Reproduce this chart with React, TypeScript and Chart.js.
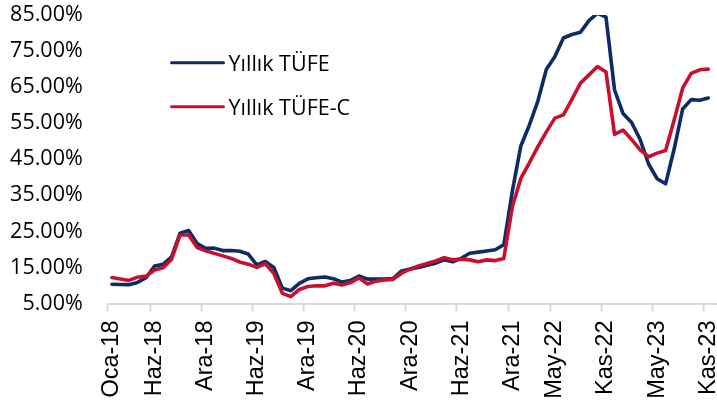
import React, { useEffect, useRef } from 'react';
import { Chart, registerables } from 'chart.js';

Chart.register(...registerables);

// Turkish month abbreviations and years for the category axis (Oca-18 … Ara-23)
const MONTHS = ['Oca', 'Şub', 'Mar', 'Nis', 'May', 'Haz', 'Tem', 'Ağu', 'Eyl', 'Eki', 'Kas', 'Ara'];
const YEARS = ['18', '19', '20', '21', '22', '23'];
const CATEGORIES = YEARS.flatMap((y) => MONTHS.map((m) => `${m}-${y}`));

// Indices of categories that carry a tick label / tick mark
const LABELED_INDICES = [0, 5, 11, 17, 23, 29, 35, 41, 47, 52, 58, 64, 70];

// Y-axis ticks (percent)
const Y_MIN = 5;
const Y_MAX = 85;
const Y_STEP = 10;

// Yıllık TÜFE (annual CPI, %), Oca-18 … Kas-23
const TUFE = [
  10.35, 10.26, 10.23, 10.85, 12.15, 15.39, 15.85, 17.9, 24.52, 25.24, 21.62, 20.3,
  20.35, 19.67, 19.71, 19.5, 18.71, 15.72, 16.65, 15.01, 9.26, 8.55, 10.56, 11.84,
  12.15, 12.37, 11.86, 10.94, 11.39, 12.62, 11.76, 11.77, 11.75, 11.89, 14.03, 14.6,
  14.97, 15.61, 16.19, 17.14, 16.59, 17.53, 18.95, 19.25, 19.58, 19.89, 21.31, 36.08,
  48.69, 54.44, 61.14, 69.97, 73.5, 78.62, 79.6, 80.21, 83.45, 85.51, 84.39, 64.27,
  57.68, 55.18, 50.51, 43.68, 39.59, 38.21, 47.83, 58.94, 61.53, 61.36, 61.98,
];

// Yıllık TÜFE-C (annual core C, %), Oca-18 … Kas-23
const TUFE_C = [
  12.2, 11.8, 11.4, 12.3, 12.6, 14.3, 14.9, 17.3, 24.0, 24.0, 20.5, 19.6,
  18.9, 18.2, 17.5, 16.5, 15.9, 15.0, 16.0, 13.4, 7.8, 6.9, 8.9, 9.7,
  9.9, 9.9, 10.6, 10.1, 10.8, 12.1, 10.4, 11.2, 11.5, 11.7, 13.4, 14.5,
  15.4, 16.1, 16.8, 17.7, 17.1, 17.3, 17.1, 16.6, 17.1, 16.9, 17.5, 31.8,
  39.7, 44.0, 48.5, 52.6, 56.4, 57.3, 61.6, 66.1, 68.4, 70.7, 69.2, 51.9,
  53.1, 50.5, 47.6, 45.7, 46.7, 47.4, 55.9, 64.7, 68.8, 69.8, 70.0,
];

const SERIES_NAMES = ['Yıllık TÜFE', 'Yıllık TÜFE-C'];
const BLUE = '#0d2b64';
const RED = '#c8102e';
const AXIS_GRAY = '#d9d9d9';

const legendPlugin = {
  id: 'insideLegend',
  afterDraw(chart: any) {
    const ctx = chart.ctx;
    const items = [
      { name: SERIES_NAMES[0], color: BLUE, lineY: 62.7, baseY: 70.7 },
      { name: SERIES_NAMES[1], color: RED, lineY: 106.7, baseY: 115 },
    ];
    ctx.save();
    ctx.font = '21.5px "Open Sans"';
    ctx.textBaseline = 'alphabetic';
    ctx.textAlign = 'left';
    for (const it of items) {
      ctx.beginPath();
      ctx.strokeStyle = it.color;
      ctx.lineWidth = 3;
      ctx.lineCap = 'round';
      ctx.moveTo(171.5, it.lineY);
      ctx.lineTo(223.5, it.lineY);
      ctx.stroke();
      ctx.fillStyle = '#000';
      ctx.fillText(it.name, 228.5, it.baseY);
    }
    ctx.restore();
  },
};

export default function App() {
  const canvasRef = useRef<HTMLCanvasElement | null>(null);

  useEffect(() => {
    document.body.style.margin = '0';
    const canvas = canvasRef.current;
    if (!canvas) return;
    const chart = new Chart(canvas, {
      type: 'line',
      data: {
        labels: CATEGORIES,
        datasets: [
          {
            label: SERIES_NAMES[0],
            data: TUFE,
            borderColor: BLUE,
            backgroundColor: BLUE,
            borderWidth: 3.6,
            pointRadius: 0,
            tension: 0,
            borderJoinStyle: 'round',
            borderCapStyle: 'round',
            order: 1,
          },
          {
            label: SERIES_NAMES[1],
            data: TUFE_C,
            borderColor: RED,
            backgroundColor: RED,
            borderWidth: 3.6,
            pointRadius: 0,
            tension: 0,
            borderJoinStyle: 'round',
            borderCapStyle: 'round',
            order: 0,
          },
        ],
      },
      options: {
        animation: false,
        responsive: false,
        maintainAspectRatio: false,
        devicePixelRatio: 1,
        layout: { padding: { top: 15, left: 0, right: 0, bottom: 0 } },
        plugins: {
          legend: { display: false },
          tooltip: { enabled: false },
        },
        scales: {
          x: {
            type: 'category',
            offset: true,
            grid: {
              display: true,
              drawOnChartArea: false,
              drawTicks: true,
              tickLength: 8,
              offset: true,
              tickWidth: 2,
              tickColor: (ctx: any) =>
                LABELED_INDICES.includes(ctx.index) ? AXIS_GRAY : 'rgba(0,0,0,0)',
            },
            border: { display: true, color: AXIS_GRAY, width: 2 },
            ticks: {
              autoSkip: false,
              maxRotation: 90,
              minRotation: 90,
              padding: 9,
              color: '#000',
              font: { family: '"Liberation Sans", Arial', size: 23.5 },
              callback: (_v: any, i: number) =>
                LABELED_INDICES.includes(i) ? CATEGORIES[i] : '',
            },
            afterFit: (s: any) => {
              s.height = 102.5;
              s.paddingLeft = 0;
              s.paddingRight = 0;
            },
          },
          y: {
            min: Y_MIN,
            max: Y_MAX,
            grid: { display: false, drawTicks: false, tickLength: 0 },
            border: { display: false },
            ticks: {
              stepSize: Y_STEP,
              padding: 25,
              color: '#000',
              font: { family: '"Open Sans"', size: 21.5 },
              callback: (v: any) => Number(v).toFixed(2) + '%',
            },
            afterFit: (s: any) => {
              s.width = 107.7;
              s.paddingTop = 0;
              s.paddingBottom = 0;
            },
          },
        },
      },
      plugins: [legendPlugin],
    });
    return () => chart.destroy();
  }, []);

  return (
    <div style={{ position: 'relative', width: 717, height: 406, overflow: 'hidden', background: '#fff' }}>
      <canvas ref={canvasRef} width={721} height={406} style={{ width: 721, height: 406, display: 'block' }} />
    </div>
  );
}
